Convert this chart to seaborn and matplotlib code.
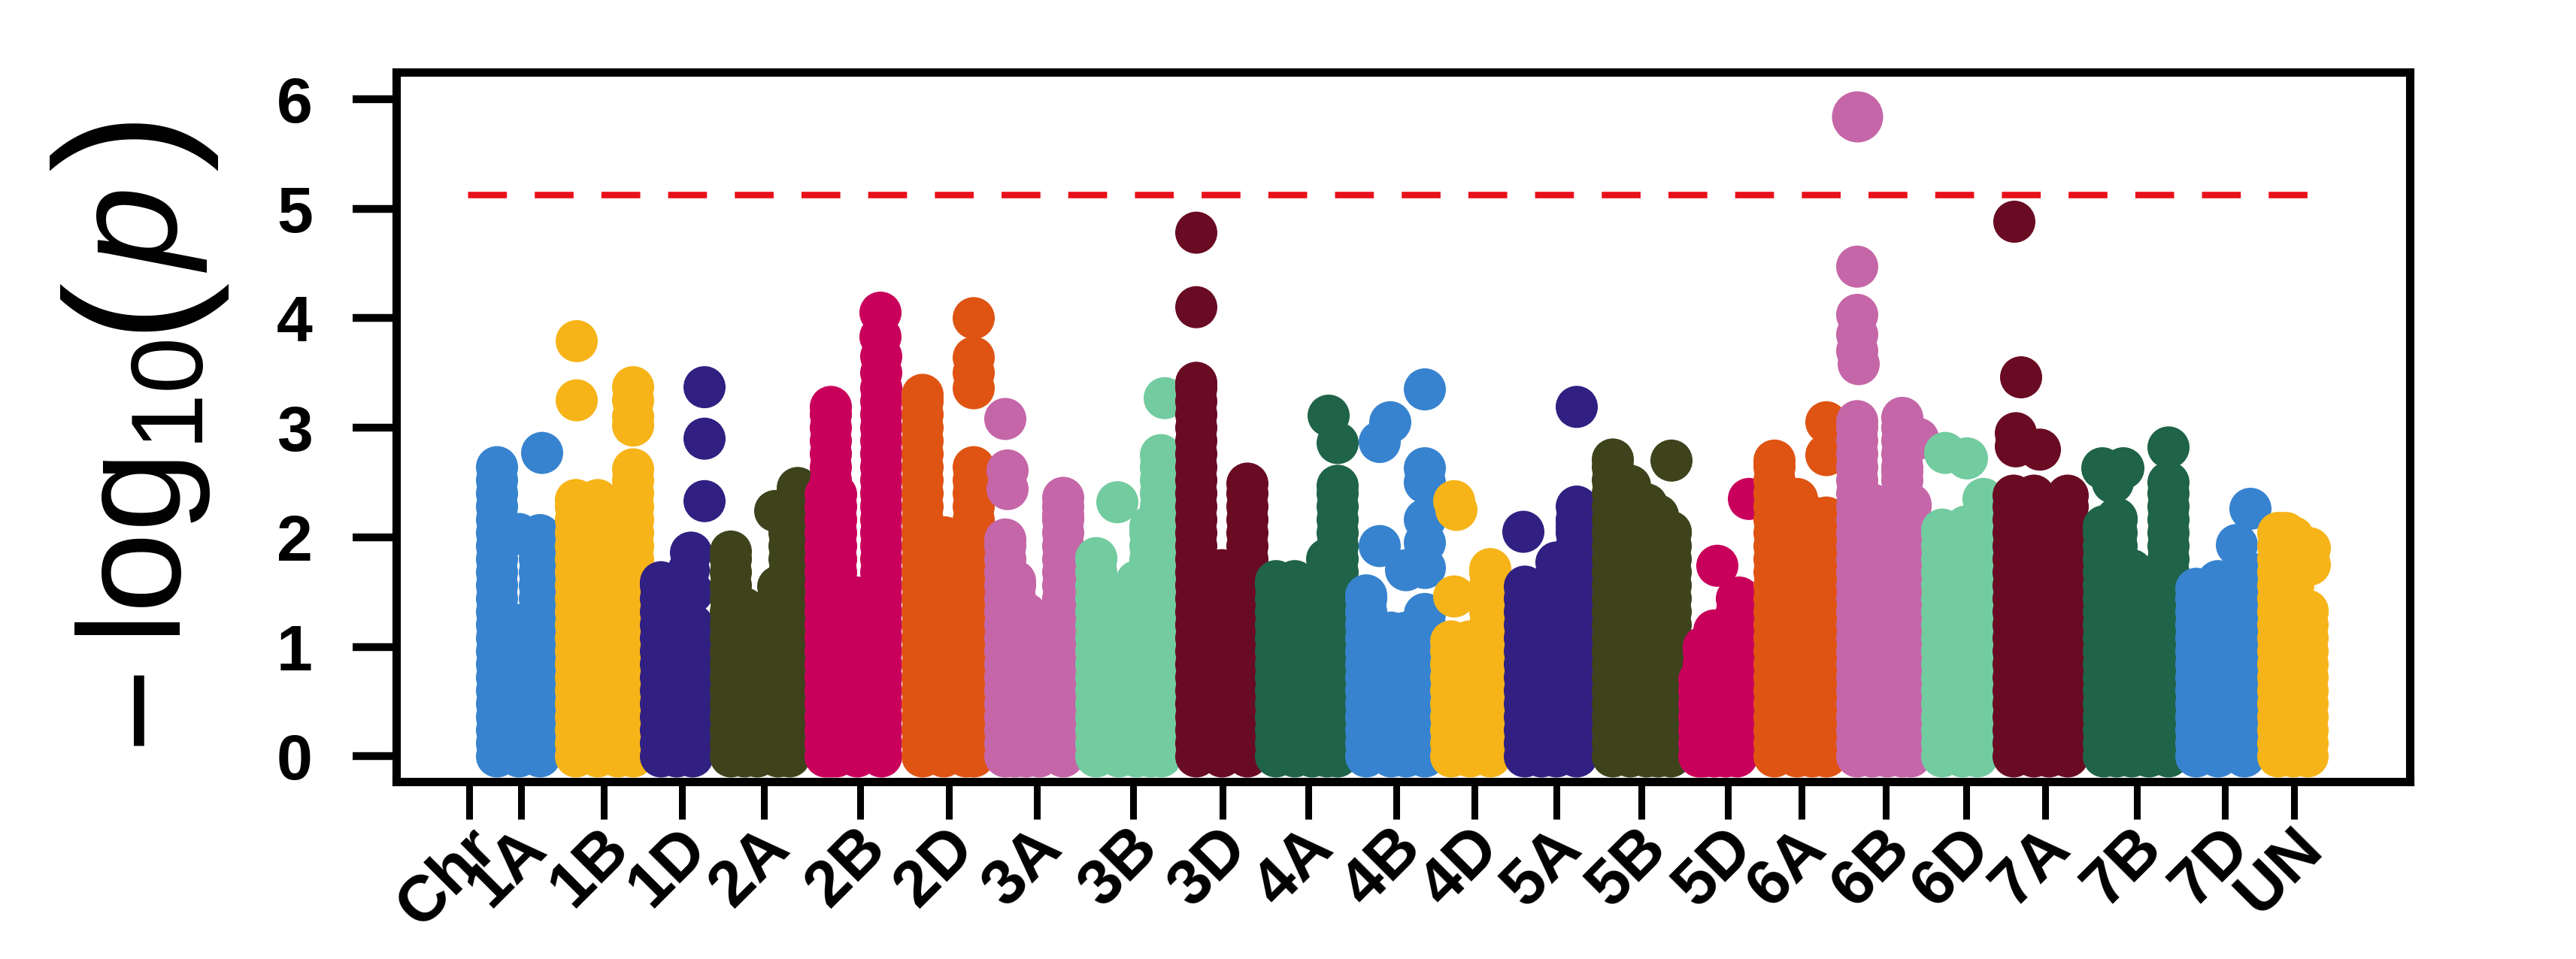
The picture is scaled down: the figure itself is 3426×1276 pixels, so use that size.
import numpy as np
import pandas as pd
import seaborn as sns
import matplotlib.pyplot as plt
from matplotlib.transforms import ScaledTranslation

chroms = ["1A", "1B", "1D", "2A", "2B", "2D", "3A", "3B", "3D", "4A", "4B",
          "4D", "5A", "5B", "5D", "6A", "6B", "6D", "7A", "7B", "7D", "UN"]
tick_labels = ["Chr"] + chroms
tick_pos = [624, 693, 803, 907, 1016, 1144, 1262, 1379, 1507, 1626, 1740, 1857,
            1961, 2070, 2183, 2298, 2396, 2508, 2615, 2720, 2842, 2959, 3051]
y_ticks = [0, 1, 2, 3, 4, 5, 6]
threshold = 5.13

blue, yellow, navy, olive, crimson = "#3783CF", "#F6B419", "#312082", "#3E431C", "#C9005B"
orange, pink, mint, maroon, green = "#DF5413", "#C566A8", "#73CBA0", "#690B22", "#1F6349"
chrom_colors = [blue, yellow, navy, olive, crimson, orange, pink, mint, maroon, green, blue,
                yellow, navy, olive, crimson, orange, pink, mint, maroon, green, blue, yellow]

# the solid mass of SNPs: genome position and highest value of each dense column
column_pos = [
    [661, 690, 718], [766, 795, 822, 842], [879, 900, 921],
    [972, 990, 1007, 1035, 1050], [1098, 1105, 1112, 1140, 1172],
    [1227, 1255, 1285, 1295], [1337, 1350, 1365, 1382, 1414],
    [1458, 1488, 1512, 1530, 1544], [1591, 1625, 1659],
    [1697, 1722, 1745, 1765, 1779], [1817, 1850, 1870, 1895],
    [1930, 1955, 1982], [2028, 2050, 2070, 2097],
    [2145, 2168, 2190, 2205, 2222], [2260, 2266, 2280, 2295, 2310],
    [2360, 2390, 2410, 2429], [2470, 2490, 2510, 2530, 2541],
    [2583, 2610, 2630], [2678, 2705, 2725, 2750],
    [2798, 2815, 2835, 2858, 2884], [2921, 2950, 2985], [3030, 3050, 3069],
]
column_peak = [
    [2.64, 1.2, 2.02], [2.34, 2.34, 2.1, 2.62], [1.59, 1.45, 1.2],
    [1.87, 1.35, 1.15, 1.55, 2.05], [2.39, 3.19, 2.39, 1.45, 3.5],
    [3.3, 1.65, 2.0, 2.64], [1.98, 1.6, 1.3, 1.15, 2.36],
    [1.81, 1.45, 1.6, 2.1, 2.75], [3.41, 1.7, 2.49],
    [1.6, 1.6, 1.55, 1.8, 2.47], [1.47, 1.13, 1.13, 1.3],
    [1.05, 1.05, 1.71], [1.55, 1.5, 1.77, 2.28],
    [2.71, 2.47, 2.3, 2.2, 2.05], [0.7, 1.0, 1.15, 1.1, 1.44],
    [2.7, 2.35, 1.85, 2.18], [3.06, 2.3, 2.0, 3.09, 2.3],
    [2.07, 1.9, 2.05], [2.38, 2.38, 2.3, 2.38],
    [2.1, 2.17, 1.7, 1.3, 2.5], [1.53, 1.6, 1.7], [2.04, 2.0, 1.33],
]
# -log10(p) values a dense column is sampled at
stack_levels = [0, 0.12, 0.24, 0.36, 0.48, 0.6, 0.72, 0.84, 0.96, 1.08, 1.2, 1.32, 1.44,
                1.56, 1.68, 1.8, 1.92, 2.04, 2.16, 2.28, 2.4, 2.52, 2.64, 2.76, 2.88,
                3.0, 3.12, 3.24, 3.36]

# single points standing clear of the mass
hit_pos = [
    [690, 721], [767, 767, 842, 842, 842, 842], [937, 937, 937, 919, 916, 921],
    [1031, 1061, 1061], [1171, 1171, 1172],
    [1256, 1295, 1295, 1295, 1295], [1337, 1340, 1340, 1414],
    [1486, 1549], [1591, 1591],
    [1767, 1779], [1835, 1849, 1835, 1895, 1895, 1895, 1895, 1895, 1870, 1895],
    [1934, 1937, 1934], [2026, 2097, 2097],
    [2223], [2284, 2313, 2326],
    [2429, 2429, 2405], [2470, 2470, 2470, 2470, 2472, 2551, 2530],
    [2587, 2616, 2638, 2615], [2679, 2688, 2681, 2713, 2681],
    [2796, 2824, 2810, 2884], [2993, 2975], [3040, 3072, 3072],
]
hit_val = [
    [2.03, 2.77], [3.79, 3.25, 3.37, 3.25, 3.1, 3.02], [3.37, 2.9, 2.33, 1.86, 1.7, 1.5],
    [2.24, 2.45, 2.2], [4.05, 3.83, 3.65],
    [2.0, 4.0, 3.64, 3.5, 3.36], [3.08, 2.61, 2.44, 2.2],
    [2.32, 3.27], [4.78, 4.1],
    [3.11, 2.86], [2.87, 3.05, 1.92, 3.35, 2.63, 2.5, 2.16, 1.95, 1.7, 1.72],
    [2.33, 2.25, 1.46], [2.05, 3.19, 2.1],
    [2.7], [1.74, 1.45, 2.35],
    [3.05, 2.75, 2.2], [4.47, 4.03, 3.85, 3.7, 3.58, 2.9, 2.6],
    [2.77, 2.72, 2.35, 2.1], [4.88, 3.46, 2.95, 2.8, 2.83],
    [2.63, 2.63, 2.5, 2.82], [2.26, 1.93], [2.04, 1.9, 1.75],
]
top_hit_chrom = "6B"
top_hit_pos = 2470
top_hit_val = 5.84

rows = []
for i, chrom in enumerate(chroms):
    for pos, peak in zip(column_pos[i], column_peak[i]):
        for level in stack_levels:
            if level < peak:
                rows.append((chrom, pos, level))
        rows.append((chrom, pos, peak))
    for pos, val in zip(hit_pos[i], hit_val[i]):
        rows.append((chrom, pos, val))
df = pd.DataFrame(rows, columns=["chrom", "pos", "logp"])

plt.rcParams["font.family"] = "Liberation Sans"
plt.rcParams["mathtext.fontset"] = "custom"
plt.rcParams["mathtext.rm"] = "Liberation Sans"
plt.rcParams["mathtext.it"] = "Liberation Sans:italic"

W, H = 3426, 1276
fig = plt.figure(figsize=(W / 100, H / 100), dpi=100)
ax = fig.add_axes([527 / W, (H - 1040) / H, 2678 / W, 944 / H])

palette = dict(zip(chroms, chrom_colors))
sns.scatterplot(data=df, x="pos", y="logp", hue="chrom", palette=palette, s=1626,
                linewidth=0, legend=False, ax=ax)
sns.scatterplot(x=[top_hit_pos], y=[top_hit_val], color=palette[top_hit_chrom], s=2400,
                linewidth=0, legend=False, ax=ax)
ax.hlines(threshold, 622, 3072, color="#E8101A", linewidth=6.2,
          linestyle=(0, (6.0, 4.3)))

ax.set_xlim(527, 3205)
ax.set_ylim(-0.23, 6.245)
ax.set_xlabel("")
ax.set_ylabel("")


# y label is set piece by piece, its brackets are far larger than the letters
def label_piece(text, y_px, size, **kw):
    fig.text(240 / W, 1 - y_px / H, text, fontsize=size, rotation=90,
             rotation_mode="anchor", ha="left", va="baseline", **kw)


label_piece("\u2212", 992, 139)
label_piece(r"$\log_{10}$", 858, 139)
label_piece("(", 441, 172)
label_piece("p", 362, 142, style="italic")
label_piece(")", 227, 172)

ax.set_yticks(y_ticks)
ax.set_yticklabels(y_ticks, fontsize=62, fontweight="bold")
ax.set_xticks(tick_pos)
ax.set_xticklabels(tick_labels, fontsize=62, fontweight="bold", rotation=45, ha="center")
ax.tick_params(axis="y", length=42, width=7.5, pad=38)
ax.tick_params(axis="x", length=36, width=6.5, pad=-2)
for lab in ax.get_xticklabels():
    shift = -28 if lab.get_text() == "Chr" else -18
    lab.set_transform(lab.get_transform() + ScaledTranslation(shift / 100, 0, fig.dpi_scale_trans))
for side in ax.spines.values():
    side.set_linewidth(8)

fig.savefig("out.png", dpi=100, facecolor="white")
